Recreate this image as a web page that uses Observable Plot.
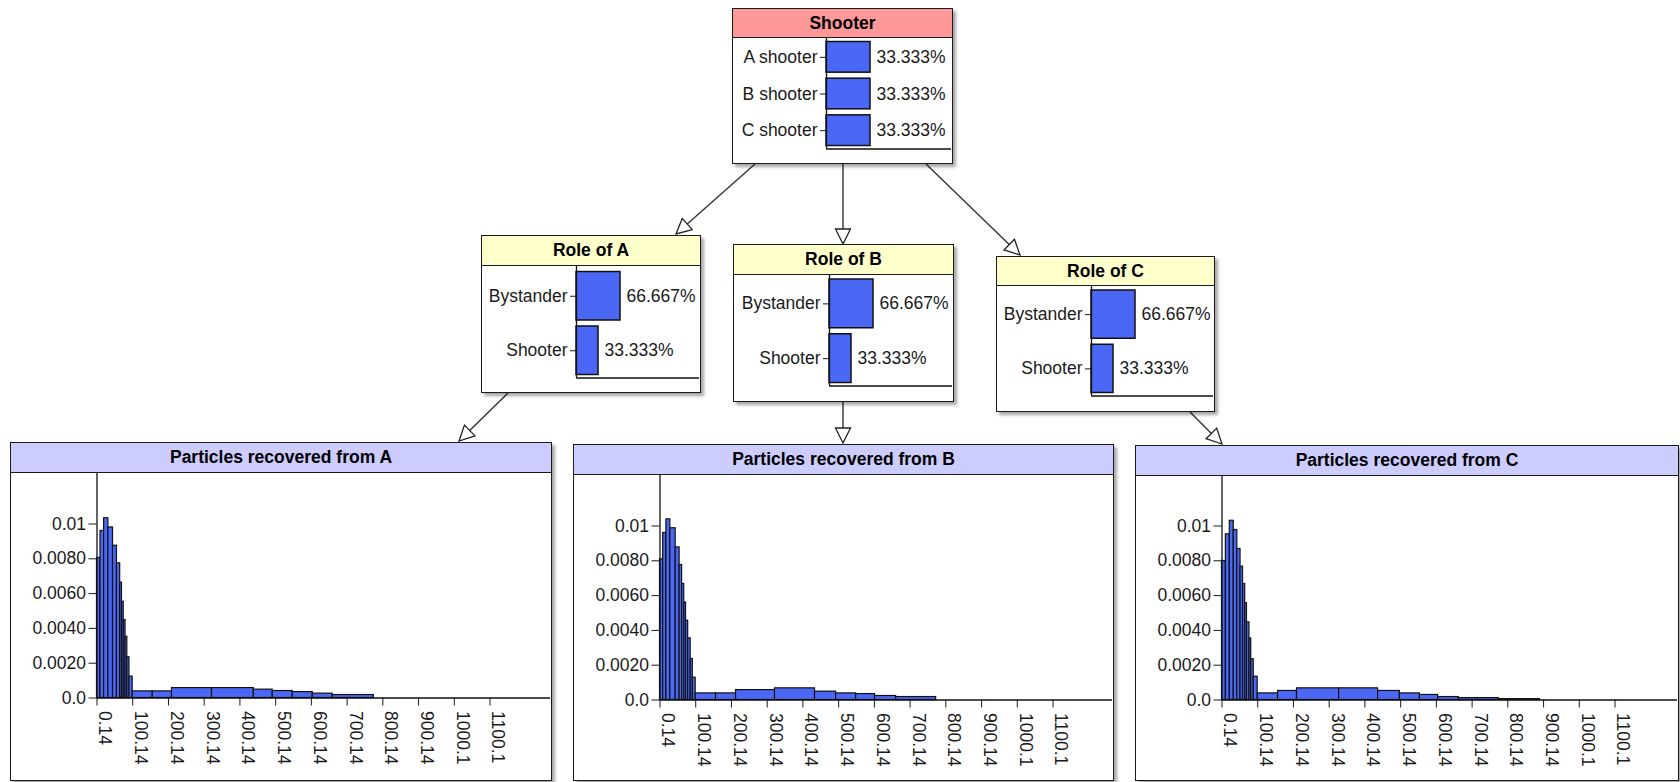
<!DOCTYPE html>
<html>
<head>
<meta charset="utf-8">
<script src="https://cdn.jsdelivr.net/npm/d3@7"></script>
<script src="https://cdn.jsdelivr.net/npm/@observablehq/plot@0.6"></script>
<style>
  body { margin: 0; background: #fff; }
  #canvas { position: relative; width: 1680px; height: 782px; overflow: hidden; background: #fff;
            font-family: "Liberation Sans", Arial, sans-serif; }
  .node { position: absolute; box-sizing: border-box; border: 1.5px solid #1a1a1a; background: #fff;
          box-shadow: 3px 3px 3px rgba(0,0,0,0.35); }
  .hdr { box-sizing: border-box; border-bottom: 1.5px solid #1a1a1a; font-weight: bold; font-size: 17.5px;
         text-align: center; color: #000; }
  .node svg { display: block; }
  #links { position: absolute; left: 0; top: 0; }
</style>
</head>
<body>
<div id="canvas"></div>
<script>
// ---------------- DATA ----------------
const shooterStates = ["A shooter", "B shooter", "C shooter"];
const shooterProbs = [33.333, 33.333, 33.333];

const roleStates = ["Bystander", "Shooter"];
const roleAProbs = [66.667, 33.333];
const roleBProbs = [66.667, 33.333];
const roleCProbs = [66.667, 33.333];

const yTickValues = [0, 0.002, 0.004, 0.006, 0.008, 0.01];
const yTickLabels = ["0.0", "0.0020", "0.0040", "0.0060", "0.0080", "0.01"];
const xTickValues = [0.14, 100.14, 200.14, 300.14, 400.14, 500.14, 600.14, 700.14, 800.14, 900.14, 1000.14, 1100.14];
const xTickLabels = ["0.14", "100.14", "200.14", "300.14", "400.14", "500.14", "600.14", "700.14", "800.14", "900.14", "1000.1", "1100.1"];

// Particles recovered: bin edges and density per bin
const particlesAEdges = [0.14, 10, 20, 32, 45, 56, 65, 70, 75, 80, 85, 91, 100, 156, 210, 322, 439, 492, 548, 604, 660, 775];
const particlesADensity = [0.00805, 0.0096, 0.01033, 0.0098, 0.00875, 0.00774, 0.00663, 0.00553, 0.00448, 0.00352, 0.00234, 0.00123,
                           0.00038, 0.00038, 0.00057, 0.00057, 0.00048, 0.00040, 0.00034, 0.00025, 0.00017];
const particlesBEdges = [0.14, 9, 18, 29, 44, 55, 62, 68, 73, 79, 86, 92, 100, 157, 213, 322, 434, 493, 549, 602, 661, 773];
const particlesBDensity = [0.00808, 0.0096, 0.01038, 0.00987, 0.00877, 0.00776, 0.00667, 0.0056, 0.00456, 0.00354, 0.00236, 0.00128,
                           0.00038, 0.00038, 0.00057, 0.00067, 0.00048, 0.00038, 0.00034, 0.00023, 0.00017];
const particlesCEdges = [0.14, 11, 22, 33, 43, 52, 59, 65, 70, 77, 82, 89, 100, 157, 210, 328, 437, 498, 554, 605, 663, 775, 890];
const particlesCDensity = [0.00799, 0.00952, 0.0103, 0.00977, 0.00868, 0.00766, 0.00667, 0.00556, 0.00446, 0.00354, 0.00234, 0.00134,
                           0.00038, 0.00052, 0.00067, 0.00067, 0.00052, 0.00038, 0.00029, 0.00017, 0.00011, 0.00005];

// ---------------- LAYOUT ----------------
const BLUE = "#4A68F5";
const FONT = "'Liberation Sans', Arial, sans-serif";
const layout = {
  shooter: {left: 732, top: 8, width: 221, height: 156, header: 29, axis: 93, fill: "#FF9999", r: [0.5, 110.5]},
  roleA:   {left: 481, top: 235, width: 220, height: 158, header: 30, axis: 94, fill: "#FFFFCC", r: [2.5, 111.5]},
  roleB:   {left: 733, top: 244, width: 221, height: 158, header: 30, axis: 95, fill: "#FFFFCC", r: [1, 110.5]},
  roleC:   {left: 996, top: 256, width: 219, height: 156, header: 29, axis: 94, fill: "#FFFFCC", r: [1, 109.5]},
  partA:   {left: 10, top: 442, width: 542, height: 339, header: 30, axis: 85.5, base: 224.5, fill: "#CCCCFF"},
  partB:   {left: 573, top: 444, width: 541, height: 337, header: 30, axis: 85.5, base: 224.5, fill: "#CCCCFF"},
  partC:   {left: 1135, top: 445, width: 544, height: 336, header: 30, axis: 85.5, base: 223.5, fill: "#CCCCFF"}
};
const connectors = [
  [755, 164, 676, 234], [843, 164, 843, 244], [926, 164, 1020, 255],
  [508, 393, 459, 441], [843, 402, 843, 443], [1190, 412, 1222, 444]
];

const baseStyle = {fontFamily: FONT, fontSize: "17.5px", color: "#1a1a1a", background: "transparent", overflow: "visible"};

function discretePlot(states, probs, g) {
  const W = g.width - 3, H = g.height - 3 - g.header;
  const n = states.length;
  const [r0, r1] = g.r;
  const step = (r1 - r0) / n;
  const pad = 3 / step;
  const rows = states.map((s, i) => ({state: s, i, p: probs[i]}));
  return Plot.plot({
    width: W, height: H,
    marginLeft: g.axis, marginRight: 0, marginTop: 0, marginBottom: H - r1,
    x: {domain: [0, d3.max(probs)], range: [g.axis, g.axis + 44], axis: null},
    y: {domain: [0, n], range: [r0, r1], axis: null},
    style: baseStyle,
    marks: [
      Plot.rect(rows, {x1: () => 0, x2: "p", y1: d => d.i + pad, y2: d => d.i + 1 - pad,
                       fill: BLUE, stroke: "#111", strokeWidth: 1.5}),
      Plot.ruleX([0], {stroke: "#111", strokeWidth: 1.3}),
      Plot.ruleY([n], {stroke: "#111", strokeWidth: 1.3}),
      Plot.axisY({anchor: "left", ticks: rows.map(d => d.i + 0.5), tickFormat: t => states[Math.floor(t)],
                  tickSize: 6, tickPadding: 3, fontSize: 17.5, label: null}),
      Plot.text(rows, {x: "p", y: d => d.i + 0.5, text: d => d.p.toFixed(3) + "%", dx: 6,
                       textAnchor: "start", fontSize: 17.5, fill: "#1a1a1a"})
    ]
  });
}

function histPlot(edges, dens, g) {
  const W = g.width - 3, H = g.height - 3 - g.header;
  const base = g.base;
  const ppu = 0.3573; // pixels per unit
  const bins = dens.map((v, i) => ({x1: edges[i], x2: edges[i + 1], v}));
  return Plot.plot({
    width: W, height: H,
    marginLeft: g.axis, marginRight: 0, marginTop: 0, marginBottom: H - base,
    x: {domain: [xTickValues[0], xTickValues[0] + (W - g.axis) / ppu], axis: null},
    y: {domain: [0, base / 174 * 0.01], axis: null},
    style: baseStyle,
    marks: [
      Plot.rect(bins, {x1: "x1", x2: "x2", y1: () => 0, y2: "v", fill: BLUE, stroke: "#111", strokeWidth: 1.2}),
      Plot.ruleX([xTickValues[0]], {stroke: "#111", strokeWidth: 1.3}),
      Plot.ruleY([0], {stroke: "#111", strokeWidth: 1.5}),
      Plot.axisY({anchor: "left", ticks: yTickValues, tickFormat: d => yTickLabels[yTickValues.indexOf(d)],
                  tickSize: 8, tickPadding: 3, fontSize: 17.5, label: null}),
      Plot.axisX({anchor: "bottom", ticks: xTickValues, tickFormat: () => "", tickSize: 8, label: null}),
      Plot.axisX({anchor: "bottom", ticks: xTickValues, tickFormat: d => xTickLabels[xTickValues.indexOf(d)],
                  tickSize: 0, tickPadding: 13, tickRotate: 90, dx: 8, fontSize: 17.5, label: null})
    ]
  });
}

const canvas = document.getElementById("canvas");

// connectors (drawn beneath nodes)
const svg = d3.select(canvas).append("svg").attr("id", "links").attr("width", 1680).attr("height", 782);
for (const [x1, y1, x2, y2] of connectors) {
  const ang = Math.atan2(y2 - y1, x2 - x1);
  const L = 15, hw = 7.5;
  const bx = x2 - L * Math.cos(ang), by = y2 - L * Math.sin(ang);
  const px = -Math.sin(ang) * hw, py = Math.cos(ang) * hw;
  svg.append("line").attr("x1", x1).attr("y1", y1).attr("x2", bx).attr("y2", by)
     .attr("stroke", "#333").attr("stroke-width", 1.4);
  svg.append("polygon")
     .attr("points", `${x2},${y2} ${bx + px},${by + py} ${bx - px},${by - py}`)
     .attr("fill", "#fff").attr("stroke", "#222").attr("stroke-width", 1.3);
}

function makeNode(g, title, plotEl) {
  const div = document.createElement("div");
  div.className = "node";
  Object.assign(div.style, {left: g.left + "px", top: g.top + "px", width: g.width + "px", height: g.height + "px"});
  const h = document.createElement("div");
  h.className = "hdr";
  Object.assign(h.style, {height: g.header + "px", lineHeight: (g.header - 1) + "px", background: g.fill});
  h.textContent = title;
  div.append(h, plotEl);
  canvas.append(div);
}

makeNode(layout.shooter, "Shooter", discretePlot(shooterStates, shooterProbs, layout.shooter));
makeNode(layout.roleA, "Role of A", discretePlot(roleStates, roleAProbs, layout.roleA));
makeNode(layout.roleB, "Role of B", discretePlot(roleStates, roleBProbs, layout.roleB));
makeNode(layout.roleC, "Role of C", discretePlot(roleStates, roleCProbs, layout.roleC));
makeNode(layout.partA, "Particles recovered from A", histPlot(particlesAEdges, particlesADensity, layout.partA));
makeNode(layout.partB, "Particles recovered from B", histPlot(particlesBEdges, particlesBDensity, layout.partB));
makeNode(layout.partC, "Particles recovered from C", histPlot(particlesCEdges, particlesCDensity, layout.partC));
</script>
</body>
</html>
